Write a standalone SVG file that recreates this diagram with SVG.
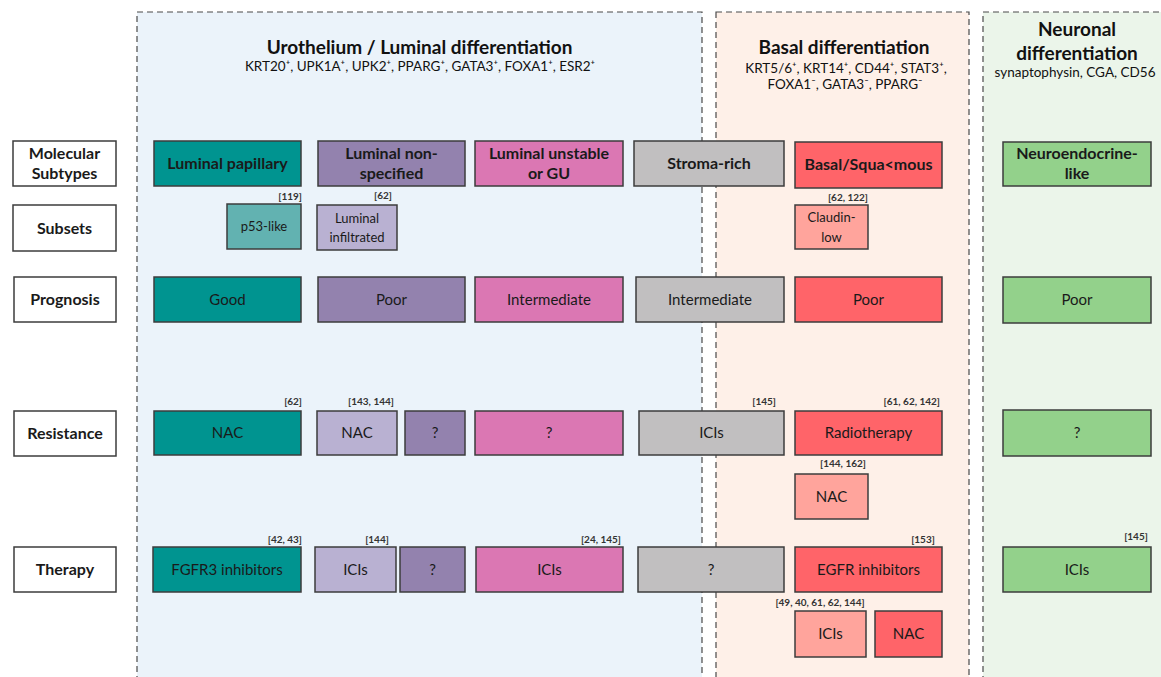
<svg xmlns="http://www.w3.org/2000/svg" width="1161" height="677" viewBox="0 0 1161 677">
<style>
text{font-family:Lato,"Liberation Sans",sans-serif;fill:#1a1a1a}
.panel{stroke:#4a4a4a;stroke-width:1.2;stroke-dasharray:6 4}
.box{stroke:#3c3c3c;stroke-width:1.5}
.lbl{fill:#fff}
.h1{font-size:19px;font-weight:700;text-anchor:middle;fill:#111}
.h2{font-size:13.5px;text-anchor:middle;fill:#111}
.b{font-size:16px;font-weight:700;text-anchor:middle}
.r{font-size:15px;text-anchor:middle}
.s{font-size:13px;text-anchor:middle}
.ref{font-size:10px;font-weight:700;fill:#333}
.rc{text-anchor:middle}
.re{text-anchor:end}
.teal{fill:#009490}.teal2{fill:#62b2b1}.pur{fill:#9382ae}.pur2{fill:#b9b1d2}.pink{fill:#db77b3}.gray{fill:#c1bfc0}.red{fill:#ff6469}.red2{fill:#ffa49c}.green{fill:#93d18b}
</style>
<rect width="1161" height="677" fill="#fff"/>
<g id="panels">
<rect class="panel" x="137" y="12" width="565" height="680" fill="#ebf3fa"/>
<rect class="panel" x="716" y="12" width="253" height="680" fill="#fef0e8"/>
<rect class="panel" x="983" y="12" width="200" height="680" fill="#ebf5ea"/>
</g>
<g id="headers">
<text class="h1" x="419.5" y="54">Urothelium / Luminal differentiation</text>
<text class="h2" x="420" y="71">KRT20⁺, UPK1A⁺, UPK2⁺, PPARG⁺, GATA3⁺, FOXA1⁺, ESR2⁺</text>
<text class="h1" x="844" y="54">Basal differentiation</text>
<text class="h2" x="846" y="73">KRT5/6⁺, KRT14⁺, CD44⁺, STAT3⁺,</text>
<text class="h2" x="845" y="89">FOXA1⁻, GATA3⁻, PPARG⁻</text>
<text class="h1" x="1077" y="36">Neuronal</text>
<text class="h1" x="1077" y="60">differentiation</text>
<text class="h2" x="1075" y="77">synaptophysin, CGA, CD56</text>
</g>
<g id="row-labels">
<g id="lbl-molecular"><rect class="box lbl" x="13" y="141" width="103" height="45"/><text class="b" x="64.5" y="158.5">Molecular</text><text class="b" x="64.5" y="179">Subtypes</text></g>
<g id="lbl-subsets"><rect class="box lbl" x="13" y="205" width="103" height="46"/><text class="b" x="64.5" y="233.5">Subsets</text></g>
<g id="lbl-prognosis"><rect class="box lbl" x="14" y="277" width="102" height="45"/><text class="b" x="65" y="305">Prognosis</text></g>
<g id="lbl-resistance"><rect class="box lbl" x="14" y="411" width="102" height="45"/><text class="b" x="65" y="439">Resistance</text></g>
<g id="lbl-therapy"><rect class="box lbl" x="14" y="547" width="102" height="45"/><text class="b" x="65" y="575">Therapy</text></g>
</g>
<g id="subtypes">
<g id="st-lp"><rect class="box teal" x="154" y="141" width="147" height="45"/><text class="b" x="227.5" y="169">Luminal papillary</text></g>
<g id="st-lns"><rect class="box pur" x="318" y="141" width="147" height="45"/><text class="b" x="391.5" y="158.5">Luminal non-</text><text class="b" x="391.5" y="179">specified</text></g>
<g id="st-lu"><rect class="box pink" x="475" y="141" width="148" height="45"/><text class="b" x="549" y="158.5">Luminal unstable</text><text class="b" x="549" y="179">or GU</text></g>
<g id="st-sr"><rect class="box gray" x="634" y="141" width="150" height="45"/><text class="b" x="709" y="169">Stroma-rich</text></g>
<g id="st-bs"><rect class="box red" x="795" y="142" width="147" height="46"/><text class="b" x="868.5" y="170">Basal/Squa&lt;mous</text></g>
<g id="st-ne"><rect class="box green" x="1003" y="142" width="148" height="44"/><text class="b" x="1077" y="158.5">Neuroendocrine-</text><text class="b" x="1077" y="179">like</text></g>
</g>
<g id="subsets">
<g id="ss-p53"><rect class="box teal2" x="227" y="204" width="74" height="45"/><text class="s" x="264" y="231">p53-like</text><text class="ref re" x="302" y="200">[119]</text></g>
<g id="ss-li"><rect class="box pur2" x="317" y="205" width="80" height="45"/><text class="s" x="357" y="223">Luminal</text><text class="s" x="357" y="242">infiltrated</text><text class="ref rc" x="383" y="199">[62]</text></g>
<g id="ss-cl"><rect class="box red2" x="795" y="205" width="73" height="44"/><text class="s" x="831.5" y="222">Claudin-</text><text class="s" x="831.5" y="242">low</text><text class="ref rc" x="848" y="201">[62, 122]</text></g>
</g>
<g id="prognosis">
<g id="pg-lp"><rect class="box teal" x="154" y="277" width="147" height="45"/><text class="r" x="227.5" y="304.5">Good</text></g>
<g id="pg-lns"><rect class="box pur" x="318" y="277" width="147" height="45"/><text class="r" x="391.5" y="304.5">Poor</text></g>
<g id="pg-lu"><rect class="box pink" x="475" y="277" width="148" height="45"/><text class="r" x="549" y="304.5">Intermediate</text></g>
<g id="pg-sr"><rect class="box gray" x="636" y="277" width="148" height="45"/><text class="r" x="710" y="304.5">Intermediate</text></g>
<g id="pg-bs"><rect class="box red" x="795" y="277" width="147" height="45"/><text class="r" x="868.5" y="304.5">Poor</text></g>
<g id="pg-ne"><rect class="box green" x="1003" y="277" width="148" height="46"/><text class="r" x="1077" y="305">Poor</text></g>
</g>
<g id="resistance">
<g id="rs-lp"><rect class="box teal" x="154" y="411" width="147" height="44"/><text class="r" x="227.5" y="438">NAC</text><text class="ref re" x="302" y="405">[62]</text></g>
<g id="rs-lns1"><rect class="box pur2" x="317" y="411" width="80" height="44"/><text class="r" x="357" y="438">NAC</text><text class="ref rc" x="371" y="405">[143, 144]</text></g>
<g id="rs-lns2"><rect class="box pur" x="405" y="411" width="60" height="44"/><text class="r" x="435" y="438">?</text></g>
<g id="rs-lu"><rect class="box pink" x="475" y="411" width="148" height="44"/><text class="r" x="549" y="438">?</text></g>
<g id="rs-sr"><rect class="box gray" x="639" y="411" width="145" height="44"/><text class="r" x="711.5" y="438">ICIs</text><text class="ref re" x="776" y="405">[145]</text></g>
<g id="rs-bs"><rect class="box red" x="795" y="411" width="147" height="44"/><text class="r" x="868.5" y="438">Radiotherapy</text><text class="ref re" x="940" y="405">[61, 62, 142]</text></g>
<g id="rs-bs2"><rect class="box red2" x="795" y="474" width="73" height="45"/><text class="r" x="831.5" y="501.5">NAC</text><text class="ref rc" x="843" y="467">[144, 162]</text></g>
<g id="rs-ne"><rect class="box green" x="1003" y="410" width="148" height="46"/><text class="r" x="1077" y="438">?</text></g>
</g>
<g id="therapy">
<g id="th-lp"><rect class="box teal" x="153" y="547" width="148" height="45"/><text class="r" x="227" y="574.5">FGFR3 inhibitors</text><text class="ref re" x="302" y="543">[42, 43]</text></g>
<g id="th-lns1"><rect class="box pur2" x="315" y="547" width="81" height="45"/><text class="r" x="355.5" y="574.5">ICIs</text><text class="ref rc" x="377" y="543">[144]</text></g>
<g id="th-lns2"><rect class="box pur" x="400" y="547" width="65" height="45"/><text class="r" x="432.5" y="574.5">?</text></g>
<g id="th-lu"><rect class="box pink" x="476" y="547" width="147" height="45"/><text class="r" x="549.5" y="574.5">ICIs</text><text class="ref rc" x="601" y="543">[24, 145]</text></g>
<g id="th-sr"><rect class="box gray" x="638" y="547" width="146" height="45"/><text class="r" x="711" y="574.5">?</text></g>
<g id="th-bs"><rect class="box red" x="795" y="547" width="147" height="45"/><text class="r" x="868.5" y="574.5">EGFR inhibitors</text><text class="ref rc" x="923" y="543">[153]</text></g>
<g id="th-bs2"><rect class="box red2" x="795" y="611" width="71" height="46"/><text class="r" x="830.5" y="638.5">ICIs</text><text class="ref rc" x="820" y="606">[49, 40, 61, 62, 144]</text></g>
<g id="th-bs3"><rect class="box red" x="875" y="611" width="67" height="46"/><text class="r" x="908.5" y="638.5">NAC</text></g>
<g id="th-ne"><rect class="box green" x="1003" y="547" width="148" height="45"/><text class="r" x="1077" y="574.5">ICIs</text><text class="ref rc" x="1136" y="540">[145]</text></g>
</g>
</svg>
